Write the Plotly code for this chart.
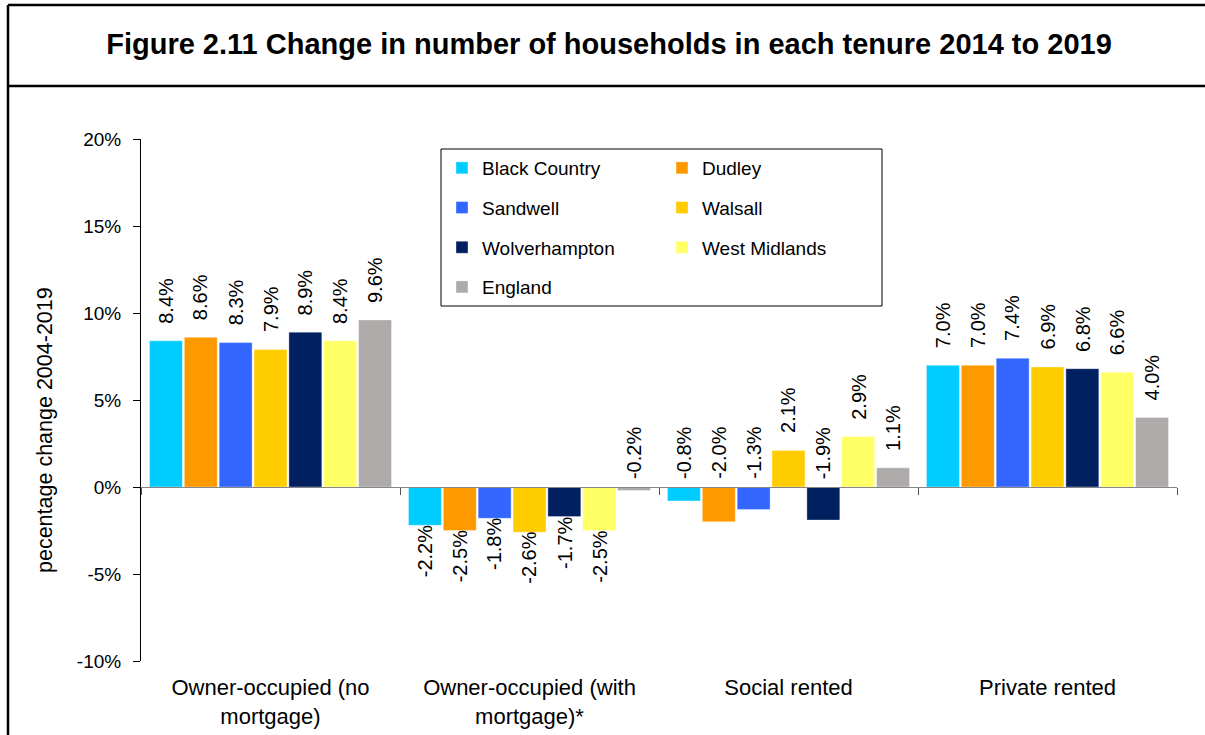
import plotly.graph_objects as go

# ---- data ----
categories = ["Owner-occupied (no<br>mortgage)", "Owner-occupied (with<br>mortgage)*", "Social rented", "Private rented"]
series_names = ["Black Country", "Dudley", "Sandwell", "Walsall", "Wolverhampton", "West Midlands", "England"]
black_country = [8.4, -2.2, -0.8, 7.0]
dudley = [8.6, -2.5, -2.0, 7.0]
sandwell = [8.3, -1.8, -1.3, 7.4]
walsall = [7.9, -2.6, 2.1, 6.9]
wolverhampton = [8.9, -1.7, -1.9, 6.8]
west_midlands = [8.4, -2.5, 2.9, 6.6]
england = [9.6, -0.2, 1.1, 4.0]
series_values = [black_country, dudley, sandwell, walsall, wolverhampton, west_midlands, england]
colors = ["#00CCFF", "#FF9900", "#3366FF", "#FFCC00", "#002060", "#FFFF66", "#AEAAAA"]
y_ticks = [-10, -5, 0, 5, 10, 15, 20]
y_tick_labels = ["-10%", "-5%", "0%", "5%", "10%", "15%", "20%"]
title_text = "Figure 2.11 Change in number of households in each tenure 2014 to 2019"
y_title = "pecentage change 2004-2019"

W, H = 1205, 735
L, R, T, B = 141, 28, 139, 74
PW, PH = W - L - R, H - T - B
BARGAP, BARGROUPGAP = 0.058, 0.055

def px_x(px):
    return (px - L) / PW

def px_y(py):
    return (H - B - py) / PH

ARIAL = "Liberation Sans, Arial, sans-serif"

fig = go.Figure()
xs = list(range(len(categories)))
col1 = [0, 2, 4, 6]
for j, (name, vals, c) in enumerate(zip(series_names, series_values, colors)):
    fig.add_trace(go.Bar(
        x=xs, y=vals, name=name, marker=dict(color=c, line=dict(width=0.6, color="rgba(255,255,255,0.6)")),
        legendgroup=name, legend="legend" if j in col1 else "legend2",
        hoverinfo="skip",
    ))

# value labels
n = len(series_names)
slot = (1 - BARGAP) / n
for j, vals in enumerate(series_values):
    for i, v in enumerate(vals):
        xc = i - (1 - BARGAP) / 2 + slot * (j + 0.5)
        txt = f"{v:.1f}%"
        if v >= 0:
            yv, anchor, shift = v, "bottom", 15
        elif i == 1 and v < -1:
            yv, anchor, shift = v, "top", 2
        else:
            yv, anchor, shift = 0, "bottom", 6
        fig.add_annotation(x=xc, y=yv, xref="x", yref="y", text=txt, showarrow=False,
                           textangle=-90, yanchor=anchor, xanchor="center", yshift=shift,
                           font=dict(family=ARIAL, size=20, color="black"))

# y-axis title
fig.add_annotation(x=px_x(45), y=px_y(430), xref="paper", yref="paper", text=y_title,
                   showarrow=False, textangle=-90, xanchor="center", yanchor="middle",
                   font=dict(family=ARIAL, size=21.5, color="black"))

# frame
line = dict(color="black", width=2.5)
fig.add_shape(type="line", xref="paper", yref="paper", x0=px_x(8), x1=px_x(1210), y0=px_y(5), y1=px_y(5), line=line)
fig.add_shape(type="line", xref="paper", yref="paper", x0=px_x(8), x1=px_x(1210), y0=px_y(86), y1=px_y(86), line=line)
fig.add_shape(type="line", xref="paper", yref="paper", x0=px_x(8), x1=px_x(8), y0=px_y(5), y1=px_y(740), line=line)
# legend box
fig.add_shape(type="rect", xref="paper", yref="paper", x0=px_x(441), x1=px_x(882), y0=px_y(149), y1=px_y(306),
              line=dict(color="black", width=1), fillcolor="white", layer="below")

legend_common = dict(bgcolor="rgba(0,0,0,0)", borderwidth=0, font=dict(family=ARIAL, size=19, color="black"),
                     tracegroupgap=12, xanchor="left", yanchor="top", itemclick=False, itemdoubleclick=False)

fig.update_layout(
    width=W, height=H,
    margin=dict(l=L, r=R, t=T, b=B, pad=0, autoexpand=False),
    paper_bgcolor="white", plot_bgcolor="white",
    barmode="group", bargap=BARGAP, bargroupgap=BARGROUPGAP,
    title=dict(text=f"<b>{title_text}</b>", x=609 / W, xref="container", xanchor="center", y=1 - 44 / H,
               yanchor="middle", font=dict(family=ARIAL, size=29, color="black")),
    showlegend=True,
    legend=dict(x=px_x(442), y=px_y(149), **legend_common),
    legend2=dict(x=px_x(662), y=px_y(149), **legend_common),
    xaxis=dict(range=[-0.5, 3.5], anchor="free", position=1 / 3, showline=True, linecolor="#868686", linewidth=1,
               tickmode="array", tickvals=[-0.5, 0.5, 1.5, 2.5, 3.5], showticklabels=False, automargin=False,
               ticks="outside", ticklen=7, tickcolor="#555555", showgrid=False, zeroline=False, fixedrange=True),
    xaxis2=dict(matches="x", overlaying="x", anchor="y", side="bottom", showline=False, ticks="",
                tickmode="array", tickvals=xs, ticktext=categories, showgrid=False, zeroline=False,
                automargin=False,
                tickfont=dict(family=ARIAL, size=22, color="black"), ticklabelstandoff=11),
    yaxis=dict(range=[-10, 20], tickmode="array", tickvals=y_ticks, ticktext=y_tick_labels, showline=True,
               linecolor="black", linewidth=1, ticks="outside", ticklen=7, tickcolor="black", automargin=False,
               showgrid=False, zeroline=False, tickfont=dict(family=ARIAL, size=19, color="black"),
               ticklabelstandoff=8),
)
# dummy trace to show xaxis2
fig.add_trace(go.Scatter(x=[0], y=[None], xaxis="x2", yaxis="y", showlegend=False, hoverinfo="skip"))

fig.write_html("out.html", config={"displayModeBar": False},
               post_script="document.body.style.margin='0';")
